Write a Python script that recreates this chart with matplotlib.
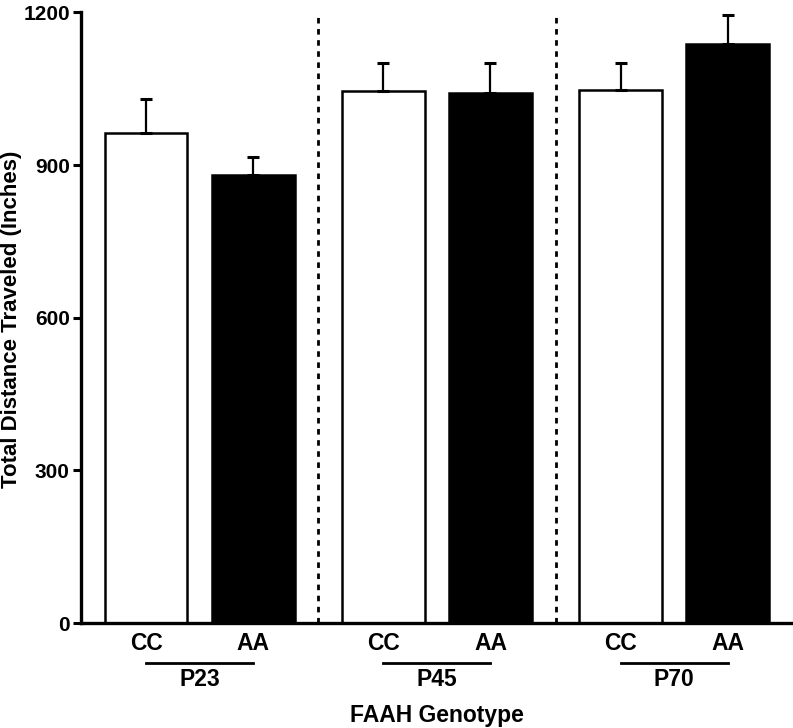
import numpy as np
import matplotlib
matplotlib.use("Agg")
import matplotlib.pyplot as plt

plt.rcParams['font.family'] = ['Liberation Sans', 'DejaVu Sans']
plt.rcParams['font.weight'] = 'bold'

# data
ages = ["P23", "P45", "P70"]
genotypes = ["CC", "AA"]
cc_means = [963, 1045, 1047]
cc_sem = [67, 55, 53]
aa_means = [880, 1041, 1138]
aa_sem = [36, 59, 56]
yticks = [0, 300, 600, 900, 1200]

group_step = 2.215
bar_w = 0.77

fig = plt.figure(figsize=(7.93, 7.28), dpi=100)
ax = fig.add_axes([0.102, 0.144, 0.898, 0.839])

gx = np.arange(len(ages)) * group_step
cc_x = gx
aa_x = gx + 1

err_kw = dict(ecolor='black', elinewidth=1.6, capsize=4.5, capthick=2.2)
ax.bar(cc_x, cc_means, width=bar_w, color='white', edgecolor='black', linewidth=1.8,
       yerr=[np.zeros(3), cc_sem], error_kw=err_kw, zorder=2)
ax.bar(aa_x, aa_means, width=bar_w, color='black', edgecolor='black', linewidth=1.8,
       yerr=[np.zeros(3), aa_sem], error_kw=err_kw, zorder=2)

# dotted separators between ages
for i in range(len(ages) - 1):
    xs = (aa_x[i] + cc_x[i + 1]) / 2
    ax.plot([xs, xs], [0, 1200], color='black', lw=2, linestyle=(0, (2, 2)), zorder=1)

ax.set_xlim(-0.61, 6.04)
ax.set_ylim(0, 1200)
ax.set_yticks(yticks)
ax.set_yticklabels([str(t) for t in yticks], fontsize=15, fontweight='bold')

xt = np.concatenate([cc_x, aa_x])
xl = ["CC"] * 3 + ["AA"] * 3
ax.set_xticks(xt)
ax.set_xticklabels(xl, fontsize=16.5, fontweight='bold')
ax.tick_params(axis='x', length=0, pad=6)
ax.tick_params(axis='y', length=6, width=2.2, direction='out', pad=2)

for s in ['top', 'right']:
    ax.spines[s].set_visible(False)
for s in ['left', 'bottom']:
    ax.spines[s].set_linewidth(2.4)

# age group underlines and labels
tr = ax.get_xaxis_transform()
for i, age in enumerate(ages):
    ax.plot([cc_x[i], aa_x[i]], [-0.0655, -0.0655], color='black', lw=2,
            transform=tr, clip_on=False)
    ax.text((cc_x[i] + aa_x[i]) / 2, -0.093, age, transform=tr, ha='center', va='center',
            fontsize=16.5, fontweight='bold')

ax.text((cc_x[1] + aa_x[1]) / 2, -0.151, "FAAH Genotype", transform=tr, ha='center',
        va='center', fontsize=16.5, fontweight='bold')
fig.text(12 / 793, 1 - 319 / 728, "Total Distance Traveled (Inches)", rotation=90,
         ha='center', va='center', fontsize=16, fontweight='bold')

fig.savefig("out.png", dpi=100)
